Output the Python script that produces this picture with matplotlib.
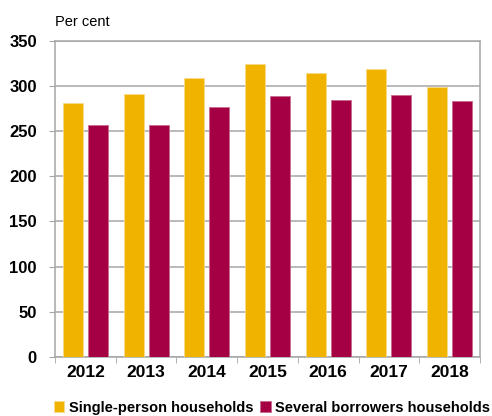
import numpy as np
import matplotlib
matplotlib.use("Agg")
import matplotlib.pyplot as plt
from matplotlib.ticker import FixedLocator

years = ["2012", "2013", "2014", "2015", "2016", "2017", "2018"]
single = [281, 291, 309, 324, 314, 318, 299]
several = [257, 257, 276, 289, 284, 290, 283]

YELLOW = "#F0B400"
RED = "#A50044"
GREY = "#A6A6A6"

plt.rcParams["font.family"] = ["Liberation Sans", "DejaVu Sans"]

fig = plt.figure(figsize=(4.92, 4.16), dpi=100)
ax = fig.add_axes([0.1118, 0.1418, 0.8638, 0.7608])

x = np.arange(len(years))
w = 0.33
ax.bar(x - 0.205, single, width=w, color=YELLOW, edgecolor="#F8D98A", linewidth=0.6,
       label="Single-person households", zorder=3)
ax.bar(x + 0.205, several, width=w, color=RED, edgecolor="#C86A8E", linewidth=0.6,
       label="Several borrowers households", zorder=3)

ax.set_xlim(-0.5, len(years) - 0.5)
ax.set_ylim(0, 350)
ax.set_yticks(np.arange(0, 351, 50))
ax.yaxis.grid(True, color=GREY, lw=1.1, zorder=0)
ax.set_axisbelow(True)

ax.set_xticks(x)
ax.set_xticklabels(years)
ax.xaxis.set_minor_locator(FixedLocator(np.arange(-0.5, len(years), 1.0)))
ax.tick_params(axis="x", which="major", length=0, pad=6)
ax.tick_params(axis="x", which="minor", length=4, color=GREY, direction="out")
ax.tick_params(axis="y", length=4, color=GREY, direction="out", pad=9)
for lab in ax.get_xticklabels():
    lab.set_fontsize(12.5)
    lab.set_fontweight("bold")
for lab in ax.get_yticklabels():
    lab.set_fontsize(12)
    lab.set_fontweight("bold")

for s in ax.spines.values():
    s.set_color(GREY)
    s.set_linewidth(1.1)

fig.text(0.1118, 0.946, "Per cent", fontsize=10.5, va="center", ha="left")

ax.legend(loc="center", bbox_to_anchor=(0.553, 0.02), bbox_transform=fig.transFigure,
          ncol=2, frameon=False, handlelength=0.7, handleheight=0.7,
          handletextpad=0.3, columnspacing=0.5, borderaxespad=0, borderpad=0,
          prop={"size": 10.5, "weight": "bold"})

fig.savefig("out.png", dpi=100)
